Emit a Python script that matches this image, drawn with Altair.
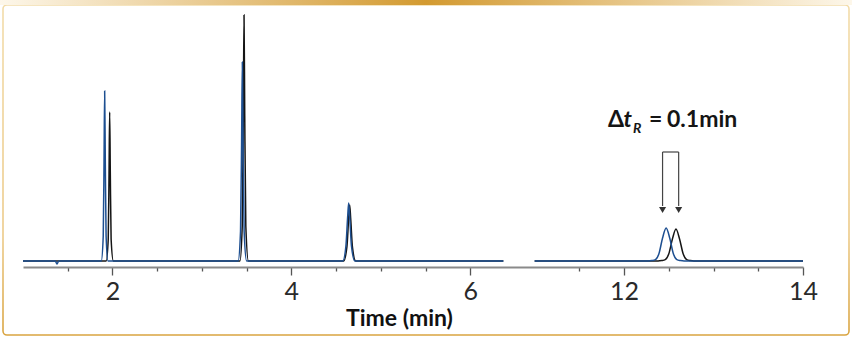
import altair as alt
import pandas as pd

# ---------------- data ----------------
# broken time axis: times >= 11 min are shifted left by this amount
BREAK_SHIFT = 4.28

BLUE_LEFT_T = [1.00, 1.36, 1.38, 1.40, 1.875, 1.897, 1.906, 1.913, 1.920, 1.929, 1.95,
               3.405, 3.432, 3.444, 3.452, 3.460, 3.472, 3.50,
               4.575, 4.610, 4.630, 4.641, 4.652, 4.672, 4.71, 6.37]
BLUE_LEFT_Y = [0, 0, -3, 0, 0, 25, 100, 170, 100, 25, 0,
               0, 30, 120, 199, 120, 30, 0,
               0, 15, 45, 58, 45, 15, 0, 0]

BLACK_LEFT_T = [1.00, 1.93, 1.953, 1.962, 1.969, 1.976, 1.985, 2.01,
                3.425, 3.451, 3.463, 3.471, 3.479, 3.491, 3.52,
                4.585, 4.621, 4.641, 4.652, 4.663, 4.683, 4.72, 6.37]
BLACK_LEFT_Y = [0, 0, 22, 88, 149, 88, 22, 0,
                0, 35, 145, 246, 145, 35, 0,
                0, 14, 43, 56, 43, 14, 0, 0]

BLUE_RIGHT_T = [11.0, 12.27, 12.31, 12.35, 12.39, 12.43, 12.47, 12.51, 12.55, 12.59, 12.63, 12.67, 14.0]
BLUE_RIGHT_Y = [0, 0, 0.4, 1.3, 7.5, 23, 33, 23, 7.5, 1.3, 0.4, 0, 0]

BLACK_RIGHT_T = [11.0, 12.38, 12.42, 12.46, 12.50, 12.54, 12.58, 12.62, 12.66, 12.70, 12.74, 12.78, 14.0]
BLACK_RIGHT_Y = [0, 0, 0.4, 1.3, 7.3, 22, 32, 22, 7.3, 1.3, 0.4, 0, 0]

MAJOR_TICKS = [2, 4, 6, 12, 14]
MINOR_TICKS = [1.5, 2.5, 3, 3.5, 4.5, 5, 5.5, 11.5, 12.5, 13, 13.5]

ARROW_T = [12.43, 12.61]
ARROW_TOP = 109
ARROW_BASE = 55
ARROW_TIP = 51

X_TITLE = "Time (min)"
ANNOT = ["Δ", "t", "R", "=", "0.1min"]

SERIES_COLORS = {"black": "#151515", "blue": "#1d4f91"}


def disp(t):
    return round(t - BREAK_SHIFT, 4) if t > 8 else t


rows = []
for name, seg, ts, ys in [("black", "L", BLACK_LEFT_T, BLACK_LEFT_Y),
                          ("black", "R", BLACK_RIGHT_T, BLACK_RIGHT_Y),
                          ("blue", "L", BLUE_LEFT_T, BLUE_LEFT_Y),
                          ("blue", "R", BLUE_RIGHT_T, BLUE_RIGHT_Y)]:
    for i, (t, y) in enumerate(zip(ts, ys)):
        rows.append({"series": name, "seg": seg, "i": i, "t": t, "xd": disp(t), "y": y})
df = pd.DataFrame(rows)

tick_vals = [disp(v) for v in MAJOR_TICKS + MINOR_TICKS]
major_disp = [int(round(disp(v) * 100)) for v in MAJOR_TICKS]
major_test = "indexof(%s, round(datum.value*100)) >= 0" % str(major_disp)
label_expr = ("(%s) ? format(datum.value > 7 ? datum.value + %s : datum.value, '.0f') : ''"
              % (major_test, BREAK_SHIFT))

AXIS = alt.Axis(
    values=tick_vals,
    labelExpr=label_expr,
    grid=False,
    zindex=1,
    domainColor="#8a8a8a",
    domainWidth=2,
    tickColor="#555555",
    tickWidth=1.3,
    tickSize={"condition": {"test": major_test, "value": 8}, "value": 4},
    labelFont="Lato",
    labelFontSize=25,
    labelColor="#2a2a2a",
    labelPadding=4,
    labelFlush=False,
    labelOverlap=False,
    labelBound=False,
    title=X_TITLE,
    titleFont="Lato",
    titleFontSize=23,
    titleFontWeight="bold",
    titleColor="#111111",
    titleX=376,
    titleY=58,
    titleBaseline="alphabetic",
)

XSCALE = alt.Scale(domain=[1, disp(14)], nice=False, zero=False)
YSCALE = alt.Scale(domain=[-6, 251], nice=False, zero=False)

X = alt.X("xd:Q", scale=XSCALE, axis=AXIS)
Y = alt.Y("y:Q", scale=YSCALE, axis=None)

one = pd.DataFrame({"a": [0]})

frame = alt.Chart(one).mark_rect(
    fill="white", fillOpacity=0, strokeWidth=1.6, cornerRadius=4,
    stroke=alt.Gradient(
        gradient="linear",
        stops=[alt.GradientStop(color="#f2dcaa", offset=0),
               alt.GradientStop(color="#ecca88", offset=0.7),
               alt.GradientStop(color="#d9a440", offset=1)],
        x1=0, x2=0, y1=0, y2=1,
    ),
).encode(x=alt.value(-20), x2=alt.value(826), y=alt.value(-5), y2=alt.value(325))

topbar = alt.Chart(one).mark_rect(
    fill=alt.Gradient(
        gradient="linear",
        stops=[alt.GradientStop(color="#fdf7ea", offset=0),
               alt.GradientStop(color="#d39a30", offset=0.5),
               alt.GradientStop(color="#fdf7ea", offset=1)],
        x1=0, x2=1, y1=0, y2=0,
    )
).encode(x=alt.value(-23), x2=alt.value(829), y=alt.value(-10), y2=alt.value(-5))

black = alt.Chart(df[df.series == "black"]).mark_line(
    color=SERIES_COLORS["black"], strokeWidth=1.5, interpolate="monotone"
).encode(x=X, y=Y, detail="seg:N", order="i:Q")

blue = alt.Chart(df[df.series == "blue"]).mark_line(
    color=SERIES_COLORS["blue"], strokeWidth=1.5, interpolate="monotone"
).encode(x=X, y=Y, detail="seg:N", order="i:Q")

adf = pd.DataFrame({"xd": [disp(t) for t in ARROW_T], "top": [ARROW_TOP] * 2,
                    "base": [ARROW_BASE] * 2, "tip": [ARROW_TIP] * 2})
vlines = alt.Chart(adf).mark_rule(color="#444444", strokeWidth=1.2).encode(
    x=X, y=alt.Y("top:Q", scale=YSCALE, axis=None), y2="base:Q")
hdf = pd.DataFrame({"x1": [disp(ARROW_T[0])], "x2": [disp(ARROW_T[1])], "top": [ARROW_TOP]})
hline = alt.Chart(hdf).mark_rule(color="#444444", strokeWidth=1.2).encode(
    x=alt.X("x1:Q", scale=XSCALE, axis=AXIS), x2="x2:Q",
    y=alt.Y("top:Q", scale=YSCALE, axis=None))
heads = alt.Chart(adf).mark_point(
    shape="triangle-down", filled=True, color="#333333", size=50, opacity=1
).encode(x=X, y=alt.Y("tip:Q", scale=YSCALE, axis=None))

def txt(s, x, y, size=23, style="normal"):
    return alt.Chart(one).mark_text(
        text=s, align="left", baseline="alphabetic", font="Lato", fontWeight="bold",
        fontStyle=style, fontSize=size, color="#151515"
    ).encode(x=alt.value(x), y=alt.value(y))

annot = (txt(ANNOT[0], 585, 117) + txt(ANNOT[1], 600.5, 117, style="italic")
         + txt(ANNOT[2], 610, 123, size=14, style="italic")
         + txt(ANNOT[3], 626, 117) + txt(ANNOT[4], 644, 117))

chart = alt.layer(frame, topbar, black, blue, vlines, hline, heads, annot).properties(
    width=780, height=257,
    autosize=alt.AutoSizeParams(type="none"),
    padding={"left": 23, "top": 10, "right": 49, "bottom": 73},
    background="white",
).configure_view(stroke=None)

chart.save("out.html", embed_options={"renderer": "svg", "actions": False})
